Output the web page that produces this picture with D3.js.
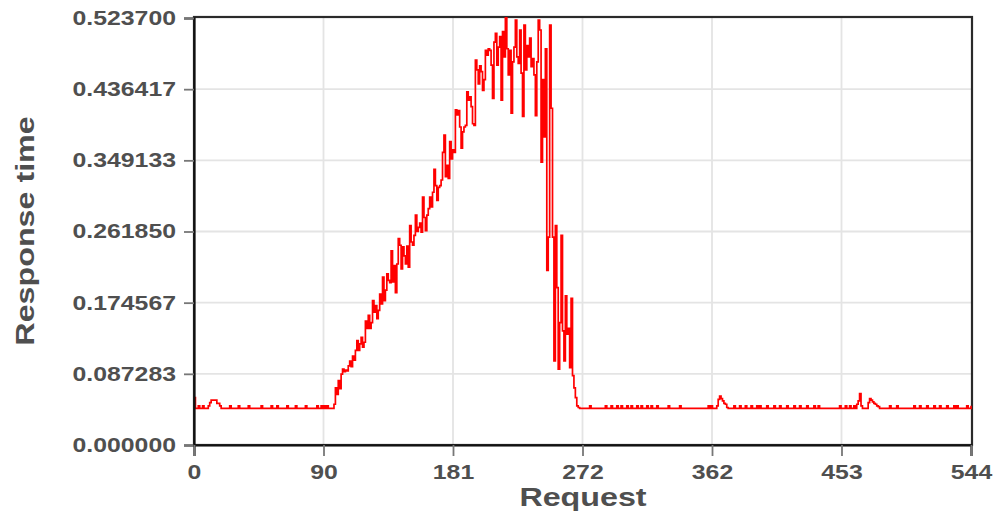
<!DOCTYPE html>
<html>
<head>
<meta charset="utf-8">
<script src="https://cdn.jsdelivr.net/npm/d3@7"></script>
<style>
  html, body { margin: 0; padding: 0; background: #fff; }
  svg { display: block; }
</style>
</head>
<body>
<svg id="chart" width="995" height="514"></svg>
<script>
// ---- data ----
const xTickValues = [0, 90.67, 181.33, 272, 362.67, 453.33, 544];
const xTickLabels = ["0", "90", "181", "272", "362", "453", "544"];
const yTickValues = [0, 0.087283, 0.174567, 0.26185, 0.349133, 0.436417, 0.5237];
const yTickLabels = ["0.000000", "0.087283", "0.174567", "0.261850", "0.349133", "0.436417", "0.523700"];
const xTitle = "Request";
const yTitle = "Response time";

const responseTimes = [
  0.058,0.045,0.045,0.048,0.045,0.045,0.048,0.045,0.045,0.045,
  0.048,0.052,0.055,0.055,0.055,0.055,0.051,0.051,0.048,0.045,
  0.045,0.045,0.045,0.045,0.045,0.048,0.045,0.045,0.045,0.045,
  0.045,0.048,0.045,0.045,0.045,0.045,0.045,0.045,0.048,0.045,
  0.045,0.045,0.045,0.045,0.045,0.045,0.045,0.048,0.045,0.045,
  0.045,0.045,0.045,0.045,0.048,0.045,0.045,0.045,0.048,0.045,
  0.045,0.045,0.045,0.045,0.045,0.048,0.045,0.045,0.045,0.045,
  0.045,0.048,0.045,0.045,0.045,0.045,0.045,0.045,0.048,0.045,
  0.045,0.045,0.045,0.045,0.045,0.045,0.048,0.045,0.045,0.048,
  0.045,0.048,0.045,0.048,0.045,0.045,0.045,0.045,0.050,0.070,
  0.062,0.079,0.069,0.087,0.093,0.090,0.092,0.091,0.097,0.103,
  0.096,0.109,0.104,0.116,0.128,0.116,0.124,0.132,0.120,0.126,
  0.152,0.143,0.159,0.143,0.150,0.177,0.163,0.171,0.155,0.165,
  0.185,0.173,0.206,0.177,0.190,0.210,0.202,0.199,0.238,0.200,
  0.220,0.187,0.222,0.253,0.245,0.216,0.243,0.232,0.222,0.244,
  0.218,0.269,0.249,0.245,0.257,0.282,0.262,0.267,0.272,0.261,
  0.304,0.279,0.263,0.282,0.290,0.304,0.292,0.310,0.338,0.318,
  0.300,0.316,0.318,0.325,0.359,0.380,0.329,0.343,0.327,0.372,
  0.351,0.362,0.359,0.411,0.405,0.410,0.390,0.364,0.384,0.390,
  0.392,0.433,0.423,0.427,0.415,0.394,0.392,0.472,0.460,0.443,
  0.465,0.458,0.435,0.448,0.484,0.478,0.486,0.484,0.466,0.425,
  0.494,0.505,0.466,0.488,0.501,0.423,0.507,0.476,0.524,0.486,
  0.454,0.484,0.407,0.470,0.488,0.521,0.476,0.468,0.509,0.456,
  0.403,0.515,0.460,0.490,0.476,0.499,0.464,0.474,0.454,0.404,
  0.470,0.521,0.509,0.347,0.448,0.378,0.486,0.214,0.255,0.515,
  0.413,0.255,0.103,0.269,0.193,0.093,0.150,0.257,0.140,0.103,
  0.183,0.136,0.143,0.095,0.180,0.085,0.070,0.058,0.048,0.046,
  0.045,0.045,0.045,0.045,0.045,0.045,0.045,0.048,0.045,0.045,
  0.045,0.045,0.045,0.045,0.045,0.045,0.045,0.045,0.048,0.045,
  0.045,0.045,0.048,0.045,0.045,0.045,0.048,0.045,0.045,0.048,
  0.045,0.045,0.045,0.048,0.045,0.045,0.048,0.045,0.045,0.045,
  0.048,0.045,0.045,0.048,0.045,0.045,0.045,0.048,0.045,0.045,
  0.048,0.045,0.045,0.045,0.048,0.045,0.045,0.045,0.045,0.045,
  0.045,0.045,0.048,0.045,0.045,0.045,0.045,0.045,0.045,0.045,
  0.048,0.045,0.045,0.045,0.045,0.045,0.045,0.045,0.045,0.045,
  0.045,0.045,0.045,0.045,0.045,0.045,0.045,0.045,0.045,0.045,
  0.048,0.045,0.048,0.045,0.045,0.045,0.048,0.056,0.060,0.057,
  0.054,0.051,0.050,0.046,0.045,0.045,0.045,0.045,0.048,0.045,
  0.045,0.045,0.048,0.045,0.045,0.045,0.048,0.045,0.045,0.045,
  0.048,0.045,0.045,0.045,0.048,0.045,0.048,0.045,0.045,0.045,
  0.045,0.048,0.045,0.045,0.045,0.045,0.048,0.045,0.045,0.045,
  0.048,0.045,0.045,0.045,0.045,0.048,0.045,0.045,0.045,0.045,
  0.048,0.045,0.045,0.045,0.048,0.045,0.045,0.045,0.045,0.048,
  0.045,0.045,0.045,0.045,0.048,0.045,0.045,0.048,0.045,0.045,
  0.045,0.045,0.045,0.045,0.045,0.045,0.045,0.045,0.045,0.045,
  0.045,0.045,0.048,0.045,0.045,0.045,0.048,0.045,0.045,0.048,
  0.045,0.045,0.048,0.045,0.050,0.054,0.063,0.048,0.045,0.045,
  0.045,0.045,0.052,0.057,0.055,0.053,0.051,0.050,0.048,0.047,
  0.045,0.045,0.045,0.045,0.045,0.045,0.045,0.048,0.045,0.045,
  0.045,0.045,0.048,0.045,0.045,0.045,0.045,0.045,0.045,0.045,
  0.045,0.045,0.045,0.045,0.048,0.045,0.045,0.045,0.048,0.045,
  0.045,0.045,0.045,0.048,0.045,0.045,0.045,0.045,0.048,0.045,
  0.045,0.045,0.048,0.045,0.045,0.045,0.045,0.048,0.045,0.045,
  0.045,0.045,0.048,0.045,0.048,0.045,0.045,0.045,0.045,0.045,
  0.045,0.048,0.045,0.045,0.048
];

// ---- layout ----
const svg = d3.select("#chart");
const plotLeft = 194, plotRight = 972, plotTop = 17, plotBottom = 445;
const stretch = 1.24;
const fontFamily = "'Liberation Sans', Arial, sans-serif";
const textColor = "#4f4f4f";

const x = d3.scaleLinear().domain([0, 544]).range([plotLeft, plotRight - 1]);
const y = d3.scaleLinear().domain([0, 0.5237]).range([plotBottom, plotTop + 1]);

// gridlines
const grid = svg.append("g");
grid.selectAll("line.gx").data(xTickValues.slice(1, -1)).join("line")
  .attr("x1", d => x(d)).attr("x2", d => x(d))
  .attr("y1", plotTop).attr("y2", plotBottom)
  .attr("stroke", "#e4e4e4").attr("stroke-width", 1.8);
grid.selectAll("line.gy").data(yTickValues.slice(1, -1)).join("line")
  .attr("x1", plotLeft).attr("x2", plotRight)
  .attr("y1", d => y(d)).attr("y2", d => y(d))
  .attr("stroke", "#e4e4e4").attr("stroke-width", 1.8);

// frame
svg.append("rect")
  .attr("x", plotLeft).attr("y", plotTop)
  .attr("width", plotRight - plotLeft).attr("height", plotBottom - plotTop)
  .attr("fill", "none").attr("stroke", "#2a2a2a").attr("stroke-width", 2.2);

// line (stepped, as in the reference)
const line = d3.line().x((d, i) => x(i)).y(d => y(d)).curve(d3.curveStepAfter);
svg.append("path")
  .datum(responseTimes)
  .attr("d", line)
  .attr("fill", "none")
  .attr("stroke", "#ff0000")
  .attr("stroke-width", 1.7)
  .attr("stroke-linejoin", "miter");

function stretchText(sel) {
  sel.each(function () {
    const w = this.getComputedTextLength();
    d3.select(this).attr("textLength", w * stretch).attr("lengthAdjust", "spacingAndGlyphs");
  });
}

// y axis
const yAxis = d3.axisLeft(y)
  .tickValues(yTickValues)
  .tickFormat((d, i) => yTickLabels[i])
  .tickSize(10).tickPadding(8);
const gy = svg.append("g").attr("transform", `translate(${plotLeft},0)`).call(yAxis);
gy.select(".domain").attr("stroke", "#111").attr("stroke-width", 2.2);
gy.selectAll(".tick line").attr("stroke", "#777").attr("stroke-width", 1.8);
gy.selectAll(".tick text")
  .attr("font-family", fontFamily).attr("font-weight", "bold")
  .attr("font-size", 20).attr("fill", textColor)
  .call(stretchText);

// x axis
const xAxis = d3.axisBottom(x)
  .tickValues(xTickValues)
  .tickFormat((d, i) => xTickLabels[i])
  .tickSize(11).tickPadding(9);
const gx = svg.append("g").attr("transform", `translate(0,${plotBottom})`).call(xAxis);
gx.select(".domain").attr("stroke", "#111").attr("stroke-width", 2.2);
gx.selectAll(".tick line").attr("stroke", "#777").attr("stroke-width", 1.8);
gx.selectAll(".tick text")
  .attr("font-family", fontFamily).attr("font-weight", "bold")
  .attr("font-size", 20).attr("fill", textColor)
  .call(stretchText);

// titles
svg.append("text")
  .attr("x", (plotLeft + plotRight) / 2).attr("y", 506)
  .attr("text-anchor", "middle")
  .attr("font-family", fontFamily).attr("font-weight", "bold")
  .attr("font-size", 26).attr("fill", textColor)
  .text(xTitle).call(stretchText);

svg.append("text")
  .attr("transform", `translate(34,${(plotTop + plotBottom) / 2}) rotate(-90)`)
  .attr("text-anchor", "middle")
  .attr("font-family", fontFamily).attr("font-weight", "bold")
  .attr("font-size", 26).attr("fill", textColor)
  .text(yTitle).call(stretchText);
</script>
</body>
</html>
